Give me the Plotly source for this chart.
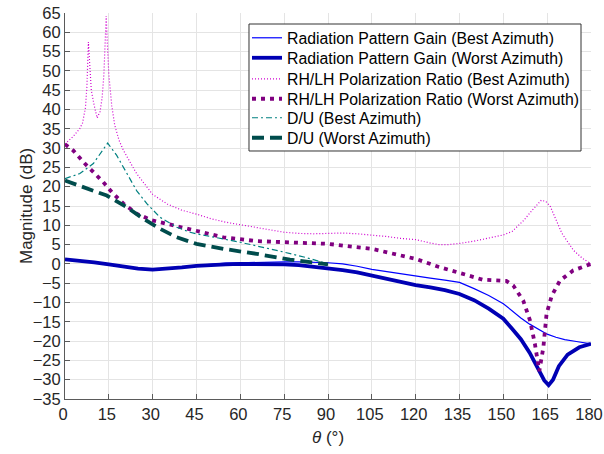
import plotly.graph_objects as go

# ---------------- data ----------------
theta_gain_best = [0, 5, 10, 15, 20, 25, 30, 35, 40, 45, 50, 55, 60, 65, 70, 75, 80, 85, 90, 95,
                   100, 105, 110, 115, 120, 125, 130, 135, 140, 145, 150, 153, 156, 159, 162, 165,
                   168, 171, 175, 180]
gain_best = [1.2, 0.9, 0.4, -0.1, -0.7, -1.2, -1.5, -1.3, -0.9, -0.4, -0.1, 0.2, 0.3, 0.4, 0.5, 0.5,
             0.5, 0.4, 0.3, 0.0, -0.6, -1.4, -2.0, -2.6, -3.2, -3.7, -4.2, -4.8, -6.4, -8.2, -10.3,
             -12.2, -14.0, -15.6, -17.0, -18.2, -19.0, -19.6, -20.1, -20.7]

theta_gain_worst = [0, 5, 10, 15, 20, 25, 30, 35, 40, 45, 50, 55, 60, 65, 70, 75, 80, 85, 90, 95,
                    100, 105, 110, 115, 120, 125, 130, 135, 140, 145, 150, 153, 156, 159, 162, 164,
                    165.5, 167, 169, 172, 176, 180]
gain_worst = [1.2, 0.9, 0.4, -0.1, -0.7, -1.2, -1.5, -1.3, -0.9, -0.5, -0.2, -0.1, 0.0, 0.0, 0.0,
              -0.1, -0.3, -0.7, -1.2, -1.6, -2.2, -3.0, -3.9, -4.8, -5.5, -6.1, -6.8, -7.8, -9.4,
              -11.6, -14.2, -16.8, -19.5, -23.0, -27.3, -30.2, -31.4, -30.0, -26.5, -23.5, -21.6,
              -20.7]

theta_pol_best = [0, 2.8, 5, 6, 7, 7.5, 8.0, 8.5, 9, 10, 11, 12, 12.7, 13.3, 13.8, 14.1, 14.5, 15,
                  16, 17, 18.5, 20, 24.5, 30, 35, 40, 45, 50, 55, 60, 65, 70, 75, 80, 85, 90, 95,
                  100, 105, 110, 115, 120, 125, 128, 131, 135, 140, 145, 150, 153, 157, 160, 163,
                  164.5, 166, 168, 170, 174, 177, 180]
pol_best = [31.1, 33.0, 35.0, 36.5, 40.5, 46.0, 57.5, 50.0, 45.0, 41.0, 37.8, 39.5, 43.0, 49.0,
            58.0, 64.2, 57.0, 49.0, 41.0, 36.0, 32.0, 29.4, 23.4, 18.0, 15.5, 13.9, 12.9, 11.7,
            10.8, 10.2, 9.5, 8.8, 8.2, 7.9, 7.8, 7.9, 8.0, 7.8, 7.5, 7.1, 6.6, 6.3, 5.4, 5.0,
            5.0, 5.3, 5.9, 6.6, 7.5, 8.4, 11.3, 14.0, 16.5, 16.2, 15.0, 11.5, 8.0, 3.5, 1.5, 0.0]

theta_pol_worst = [0, 2.8, 6.8, 9.7, 13.1, 16, 20, 24.5, 29.7, 34.8, 41.6, 45, 54.2, 65.6, 77, 90,
                   105, 120, 128, 135, 143, 151, 153.4, 156.8, 159.1, 160.8, 162.3, 163.7, 164.8,
                   166.6, 169.4, 173.9, 180]
pol_worst = [31.0, 29.4, 26.0, 23.8, 21.2, 18.6, 15.6, 13.0, 11.3, 10.4, 9.1, 8.5, 6.9, 5.9, 5.6,
             5.2, 3.9, 1.3, -0.8, -2.4, -4.1, -4.4, -5.6, -9.5, -14.6, -20.7, -27.8, -21.6,
             -12.9, -8.2, -4.3, -1.7, 0.0]

theta_du_best = [0, 5.1, 9.7, 13.1, 14.6, 17.7, 21.1, 24.5, 28, 32.5, 38.2, 42.8, 45, 60, 74.7,
                 82.7, 90]
du_best = [22.1, 23.4, 26.0, 29.8, 31.3, 28.1, 23.4, 19.0, 15.6, 12.1, 9.5, 8.2, 7.8, 5.6, 3.1,
           1.6, 0.0]

theta_du_worst = [0, 7.4, 14.3, 21.1, 26.8, 32.5, 38.2, 45, 54.2, 65.6, 77, 90]
du_worst = [21.6, 19.7, 17.7, 14.7, 11.7, 9.1, 6.9, 5.2, 3.9, 2.6, 1.1, -0.1]

names = [
    "Radiation Pattern Gain (Best Azimuth)",
    "Radiation Pattern Gain (Worst Azimuth)",
    "RH/LH Polarization Ratio (Best Azimuth)",
    "RH/LH Polarization Ratio (Worst Azimuth)",
    "D/U (Best Azimuth)",
    "D/U (Worst Azimuth)",
]

x_ticks = list(range(0, 181, 15))
y_ticks = list(range(-35, 66, 5))

x_title = "<i>θ</i> (°)"
y_title = "Magnitude (dB)"

# ---------------- figure ----------------
FONT = "Liberation Sans, Arial, sans-serif"
series = [
    (theta_gain_best, gain_best, dict(color="#0000FF", width=1.2, dash="solid")),
    (theta_gain_worst, gain_worst, dict(color="#0000B4", width=3.8, dash="solid")),
    (theta_pol_best, pol_best, dict(color="#D000D0", width=1.2, dash="1px,2px")),
    (theta_pol_worst, pol_worst, dict(color="#800080", width=3.8, dash="4px,5px")),
    (theta_du_best, du_best, dict(color="#008080", width=1.2, dash="6px,3px,2px,3px")),
    (theta_du_worst, du_worst, dict(color="#004C4C", width=3.8, dash="12px,6px")),
]

# legend rows: one small legend per entry so the row pitch matches the reference
legend_ids = ["legend", "legend2", "legend3", "legend4", "legend5", "legend6"]
legend_rows_y = [0.9352, 0.8834, 0.829, 0.7772, 0.728, 0.6762]

fig = go.Figure()
for (tx, ty, ln), nm, lg in zip(series, names, legend_ids):
    fig.add_trace(go.Scatter(x=tx, y=ty, mode="lines", name=nm, line=ln, legend=lg))

axis_common = dict(
    showgrid=True, gridcolor="#E4E4E4", gridwidth=1,
    zeroline=False, showline=True, linecolor="#5A5A5A", linewidth=1,
    ticks="inside", ticklen=5, tickcolor="#5A5A5A",
    tickfont=dict(family=FONT, size=16.5, color="#262626"),
    ticklabeloverflow="allow",
    mirror=False, automargin=False,
)

legend_layout = {}
for lg, ly in zip(legend_ids, legend_rows_y):
    legend_layout[lg] = dict(
        x=0.346, y=ly, xanchor="left", yanchor="middle",
        bgcolor="rgba(0,0,0,0)", borderwidth=0,
        font=dict(family=FONT, size=15.8, color="#000000"),
        itemwidth=30,
    )

fig.update_layout(
    width=604, height=454,
    margin=dict(l=65, r=13, t=13, b=55),
    paper_bgcolor="white", plot_bgcolor="white",
    font=dict(family=FONT, color="#262626"),
    xaxis=dict(range=[0, 180], tickvals=x_ticks, ticklabelshift=-2, **axis_common),
    yaxis=dict(range=[-35, 65], tickvals=y_ticks, **axis_common),
    showlegend=True,
    shapes=[dict(type="rect", xref="paper", yref="paper",
                 x0=0.3498, x1=0.981, y0=0.6425, y1=0.9715,
                 line=dict(color="#333333", width=1), fillcolor="white", layer="above")],
    annotations=[
        dict(text=y_title, textangle=-90, xref="paper", yref="paper",
             x=-0.0741, y=0.5, xanchor="center", yanchor="middle", showarrow=False,
             font=dict(family=FONT, size=17, color="#262626")),
        dict(text=x_title, xref="paper", yref="paper",
             x=0.5, y=-0.101, xanchor="center", yanchor="middle", showarrow=False,
             font=dict(family=FONT, size=17, color="#262626")),
    ],
    **legend_layout,
)

fig.write_html("out.html",
               config={"displayModeBar": False},
               post_script="document.body.style.margin='0';document.body.style.padding='0';")
